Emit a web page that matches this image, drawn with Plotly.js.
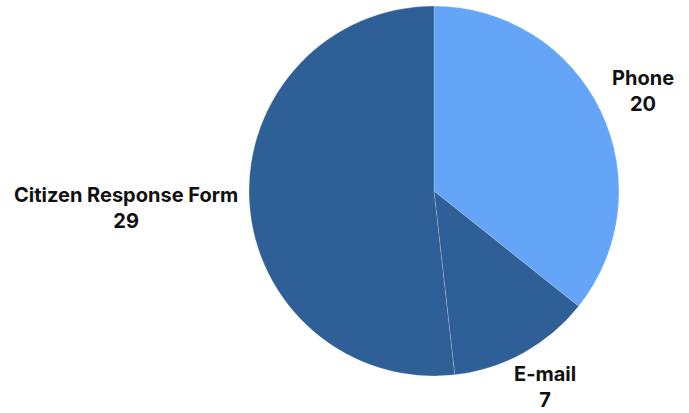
<!DOCTYPE html>
<html>
<head>
<meta charset="utf-8">
<script src="https://cdn.plot.ly/plotly-3.0.1.min.js"></script>
<style>html,body{margin:0;padding:0;background:#fff;}#chart{width:689px;height:413px;}</style>
</head>
<body>
<div id="chart"></div>
<script>
const categories = ["Phone", "E-mail", "Citizen Response Form"];
const values = [20, 7, 29];
const colors = ["#64A5F8", "#2E5F96", "#2E5F96"];

const W = 689, H = 413;
// label block centres (pixels) for the outside labels
const labelPx = [[643, 91], [545, 387], [126, 208]];

const trace = {
  type: "pie",
  labels: categories,
  values: values,
  sort: false,
  direction: "clockwise",
  rotation: 0,
  marker: {colors: colors, line: {color: "rgba(255,255,255,0.35)", width: 0.6}},
  textinfo: "none",
  hoverinfo: "none",
  automargin: false,
  domain: {x: [249/W, 619/W], y: [37/H, 407/H]}
};

const annotations = categories.map((c, i) => ({
  xref: "paper", yref: "paper",
  x: labelPx[i][0] / W, y: 1 - labelPx[i][1] / H,
  xanchor: "center", yanchor: "middle",
  showarrow: false,
  align: "center",
  borderpad: 0,
  text: "<b>" + c + "</b><br><b>" + values[i] + "</b>",
  font: {family: "Inter, 'Open Sans', sans-serif", size: 20, color: "#111"}
}));

Plotly.newPlot("chart", [trace], {
  width: W, height: H,
  margin: {l: 0, r: 0, t: 0, b: 0},
  showlegend: false,
  paper_bgcolor: "#fff",
  plot_bgcolor: "#fff",
  annotations: annotations
}, {displayModeBar: false, staticPlot: true});
</script>
</body>
</html>
